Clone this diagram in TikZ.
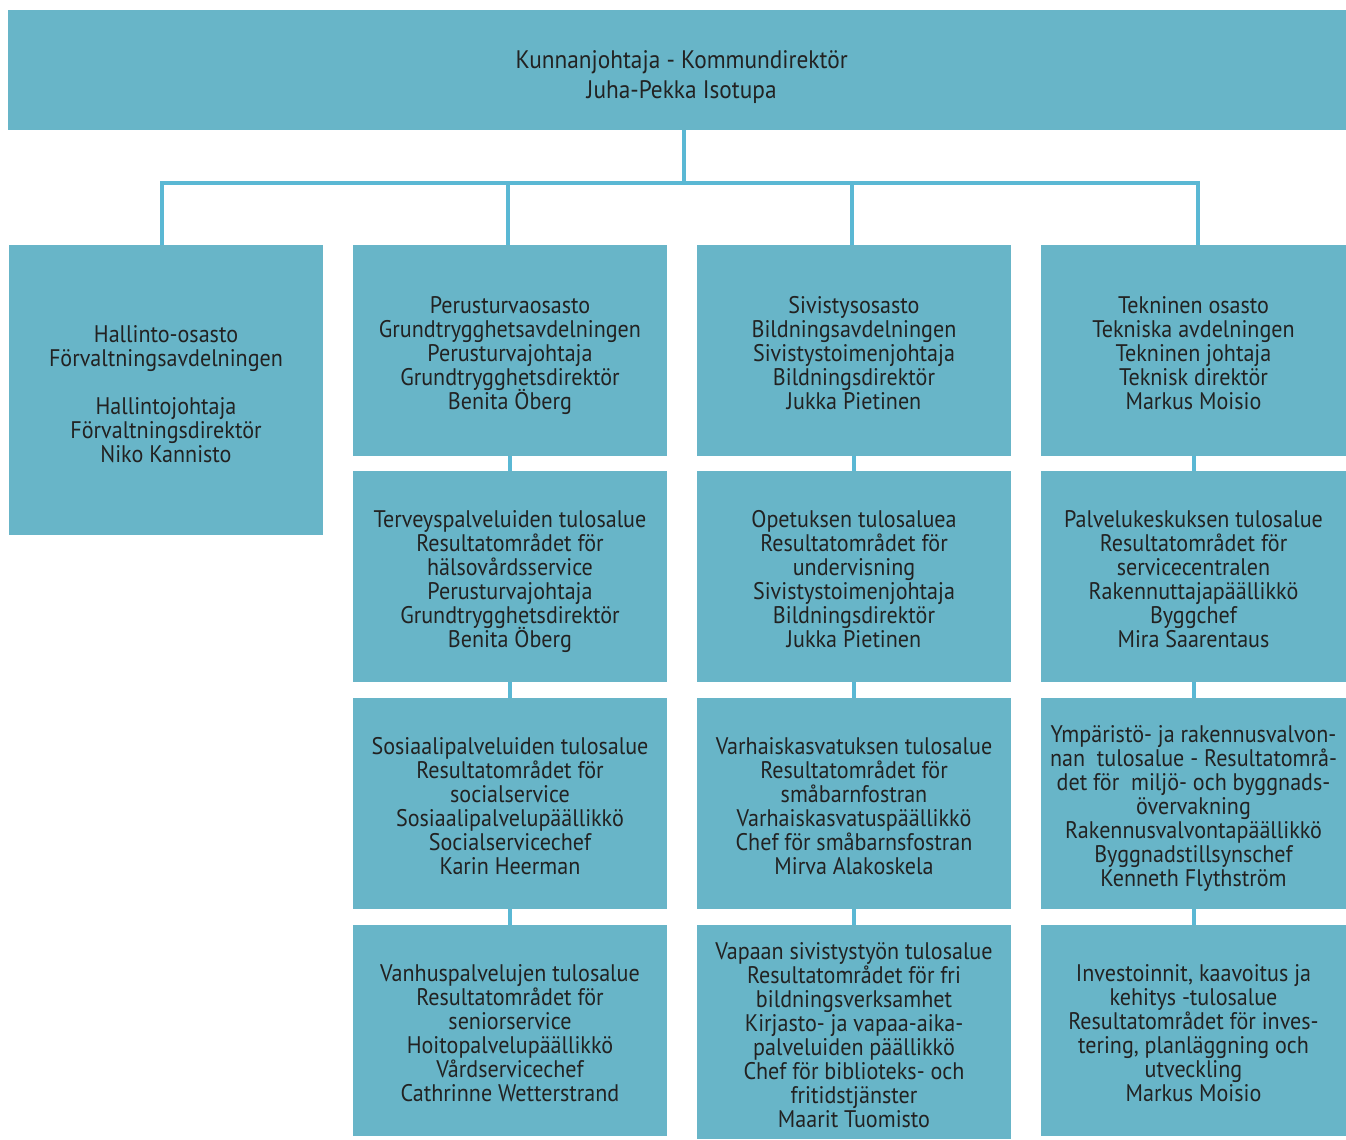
\documentclass[tikz,border=0pt]{standalone}
\usepackage{fontspec}
\setmainfont[FakeStretch=0.92]{PT Sans}
\definecolor{boxfill}{HTML}{68B5C8}
\definecolor{linecol}{HTML}{5AB8D4}
\definecolor{txt}{HTML}{222222}
\newcommand{\dn}{\rule{0pt}{22pt}}
\newcommand{\ed}{\rule[-5pt]{0pt}{5pt}}
\newcommand{\tightlines}{\setlength{\lineskiplimit}{-30pt}\setlength{\lineskip}{0pt}}
\begin{document}
\begin{tikzpicture}[x=0.75pt,y=-0.75pt,
  box/.style={fill=boxfill, draw=none, inner sep=0pt, text=txt, align=center,
    minimum width=235.5pt, minimum height=158.25pt,
    font=\fontsize{18}{18}\selectfont\tightlines},
  colfour/.style={box, minimum width=228.75pt},
  conn/.style={draw=linecol, line width=3pt}]
\useasboundingbox (0,0) rectangle (1346,1139);

\node[box, minimum width=1003.5pt, minimum height=90pt, font=\fontsize{19}{22}\selectfont\tightlines] (top) at (677,70)
  {\rule{0pt}{24pt}\hspace*{7pt}Kunnanjohtaja - Kommundirektör\\\hspace*{7pt}Juha-Pekka Isotupa};

\node[box, minimum height=217.5pt] (a1) at (166,390)
  {\rule{0pt}{19pt}Hallinto-osasto\\Förvaltningsavdelningen\\[18pt]Hallintojohtaja\\Förvaltningsdirektör\\Niko Kannisto};

\node[box] (b1) at (510,350.5)
  {\dn Perusturvaosasto\\Grundtrygghetsavdelningen\\Perusturvajohtaja\\Grundtrygghetsdirektör\\Benita Öberg\ed};
\node[box] (b2) at (510,576.5)
  {\dn Terveyspalveluiden tulosalue\\Resultatområdet för\\hälsovårdsservice\\Perusturvajohtaja\\Grundtrygghetsdirektör\\Benita Öberg\ed};
\node[box] (b3) at (510,803.5)
  {\dn Sosiaalipalveluiden tulosalue\\Resultatområdet för\\socialservice\\Sosiaalipalvelupäällikkö\\Socialservicechef\\Karin Heerman\ed};
\node[box] (b4) at (510,1030.5)
  {\dn Vanhuspalvelujen tulosalue\\Resultatområdet för\\seniorservice\\Hoitopalvelupäällikkö\\Vårdservicechef\\Cathrinne Wetterstrand\ed};

\node[box] (c1) at (854,350.5)
  {\dn Sivistysosasto\\Bildningsavdelningen\\Sivistystoimenjohtaja\\Bildningsdirektör\\Jukka Pietinen\ed};
\node[box] (c2) at (854,576.5)
  {\dn Opetuksen tulosaluea\\Resultatområdet för\\undervisning\\Sivistystoimenjohtaja\\Bildningsdirektör\\Jukka Pietinen\ed};
\node[box] (c3) at (854,803.5)
  {\dn Varhaiskasvatuksen tulosalue\\Resultatområdet för\\småbarnfostran\\Varhaiskasvatuspäällikkö\\Chef för småbarnsfostran\\Mirva Alakoskela\ed};
\node[box, minimum height=160.5pt] (c4) at (854,1032)
  {\dn Vapaan sivistystyön tulosalue\\Resultatområdet för fri\\bildningsverksamhet\\Kirjasto- ja vapaa-aika-\\palveluiden päällikkö\\Chef för biblioteks- och\\fritidstjänster\\Maarit Tuomisto\ed};

\node[colfour] (d1) at (1193.5,350.5)
  {\dn Tekninen osasto\\Tekniska avdelningen\\Tekninen johtaja\\Teknisk direktör\\Markus Moisio\ed};
\node[colfour] (d2) at (1193.5,576.5)
  {\dn Palvelukeskuksen tulosalue\\Resultatområdet för\\servicecentralen\\Rakennuttajapäällikkö\\Byggchef\\Mira Saarentaus\ed};
\node[colfour] (d3) at (1193.5,803.5)
  {\dn Ympäristö- ja rakennusvalvon-\\nan\ \ tulosalue - Resultatområ-\\det för\ \ miljö- och byggnads-\\övervakning\\Rakennusvalvontapäällikkö\\Byggnadstillsynschef\\Kenneth Flythström\ed};
\node[colfour] (d4) at (1193.5,1030.5)
  {\dn Investoinnit, kaavoitus ja\\kehitys -tulosalue\\Resultatområdet för inves-\\tering, planläggning och\\utveckling\\Markus Moisio\ed};

\coordinate (bus) at (684,183);
\coordinate (busl) at (162,183);
\coordinate (busr) at (1198,183);
\coordinate (busb) at (508,183);
\coordinate (busc) at (852,183);

\draw[conn] (bus |- top.south) -- (bus);
\draw[conn, line width=3.5pt, line cap=rect] (busl) -- (busr);
\draw[conn] (busl) -- (busl |- a1.north);
\draw[conn] (busb) -- (busb |- b1.north);
\draw[conn] (busc) -- (busc |- c1.north);
\draw[conn] (busr) -- (busr |- d1.north);

\draw[conn] (b1.south) -- (b2.north);
\draw[conn] (b2.south) -- (b3.north);
\draw[conn] (b3.south) -- (b4.north);
\draw[conn] (c1.south) -- (c2.north);
\draw[conn] (c2.south) -- (c3.north);
\draw[conn] (c3.south) -- (c4.north);
\draw[conn] (d1.south) -- (d2.north);
\draw[conn] (d2.south) -- (d3.north);
\draw[conn] (d3.south) -- (d4.north);
\end{tikzpicture}
\end{document}
